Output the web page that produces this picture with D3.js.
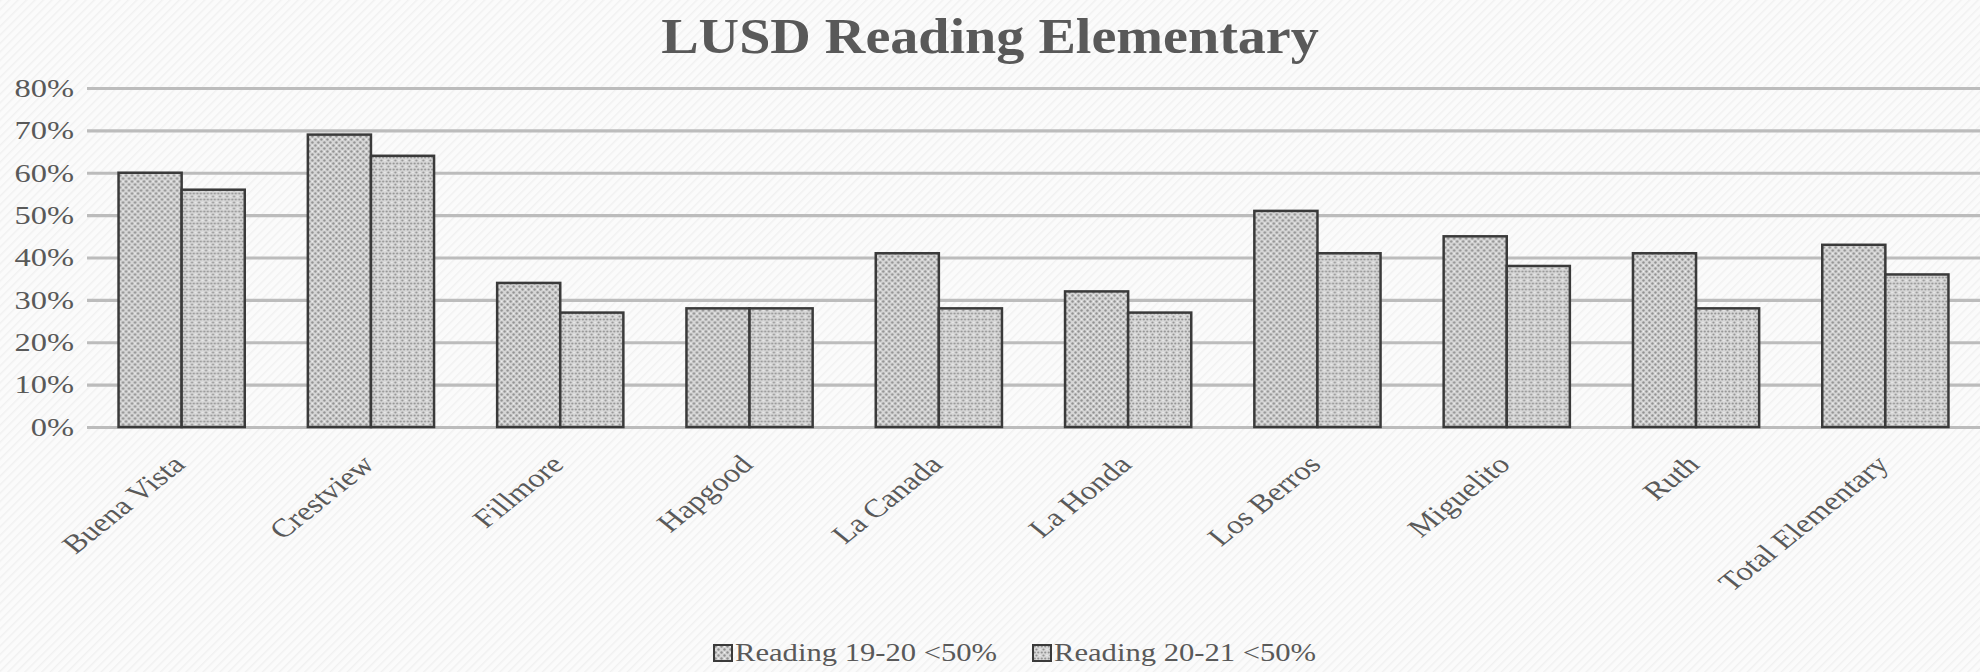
<!DOCTYPE html>
<html>
<head>
<meta charset="utf-8">
<script src="https://cdn.jsdelivr.net/npm/d3@7"></script>
<style>
  html, body { margin: 0; padding: 0; background: #fafafa; }
  svg { display: block; }
  text { font-family: "Liberation Serif", "Times New Roman", serif; fill: #595959; }
</style>
</head>
<body>
<svg id="chart" width="1980" height="672"></svg>
<script>
const title = "LUSD Reading Elementary";
const categories = ["Buena Vista", "Crestview", "Fillmore", "Hapgood", "La Canada", "La Honda", "Los Berros", "Miguelito", "Ruth", "Total Elementary"];
const seriesNames = ["Reading 19-20 <50%", "Reading 20-21 <50%"];
const reading1920 = [60, 69, 34, 28, 41, 32, 51, 45, 41, 43];
const reading2021 = [56, 64, 27, 28, 28, 27, 41, 38, 28, 36];
const yTicks = [0, 10, 20, 30, 40, 50, 60, 70, 80];

const W = 1980, H = 672;
const margin = { left: 87, right: 0, top: 88, bottom: 245 };
const SX = 1.25;   // horizontal text stretch seen in the reference

const svg = d3.select("#chart");
const defs = svg.append("defs");

// background paper texture
const bgp = defs.append("pattern").attr("id", "bg").attr("patternUnits", "userSpaceOnUse")
  .attr("width", 6).attr("height", 6).attr("patternTransform", "rotate(45)");
bgp.append("rect").attr("width", 6).attr("height", 6).attr("fill", "#fbfbfb");
bgp.append("rect").attr("width", 1.5).attr("height", 6).attr("fill", "#f1f1f1");
svg.append("rect").attr("width", W).attr("height", H).attr("fill", "url(#bg)");

// bar patterns
const p1 = defs.append("pattern").attr("id", "pat0").attr("patternUnits", "userSpaceOnUse")
  .attr("width", 6).attr("height", 6);
p1.append("rect").attr("width", 6).attr("height", 6).attr("fill", "#d6d6d6");
p1.append("circle").attr("cx", 1.5).attr("cy", 1.5).attr("r", 1.2).attr("fill", "#919191");
p1.append("circle").attr("cx", 4.5).attr("cy", 4.5).attr("r", 1.2).attr("fill", "#919191");
p1.append("circle").attr("cx", 4.5).attr("cy", 1.5).attr("r", 0.7).attr("fill", "#f0f0f0");

const p2 = defs.append("pattern").attr("id", "pat1").attr("patternUnits", "userSpaceOnUse")
  .attr("width", 7).attr("height", 6);
p2.append("rect").attr("width", 7).attr("height", 6).attr("fill", "#d8d8d8");
p2.append("circle").attr("cx", 1.75).attr("cy", 1.5).attr("r", 1.1).attr("fill", "#959595");
p2.append("circle").attr("cx", 5.25).attr("cy", 1.5).attr("r", 1.1).attr("fill", "#959595");
p2.append("circle").attr("cx", 3.5).attr("cy", 4.5).attr("r", 1.1).attr("fill", "#959595");
p2.append("circle").attr("cx", 0).attr("cy", 4.5).attr("r", 0.7).attr("fill", "#efefef");
p2.append("circle").attr("cx", 7).attr("cy", 4.5).attr("r", 0.7).attr("fill", "#efefef");

const x0 = d3.scaleBand().domain(categories).range([margin.left, W - margin.right])
  .paddingInner(1/3).paddingOuter(1/6);
const x1 = d3.scaleBand().domain([0, 1]).range([0, x0.bandwidth()]);
const y = d3.scaleLinear().domain([0, 80]).range([H - margin.bottom, margin.top]);

// gridlines
const yAxis = d3.axisLeft(y).tickValues(yTicks).tickSize(-(W - margin.right - margin.left))
  .tickFormat(d => d + "%").tickPadding(0);
const gy = svg.append("g").attr("transform", `translate(${margin.left},0)`).call(yAxis);
gy.select(".domain").remove();
gy.selectAll(".tick line").attr("stroke", "#bcbcbc").attr("stroke-width", 3.2);
gy.selectAll(".tick text").attr("font-size", 26).attr("fill", "#595959")
  .attr("text-anchor", "end")
  .attr("x", 0)
  .attr("transform", `translate(-13,0) scale(${SX},1)`);

// bars
const data = categories.map((c, i) => ({ c, v: [reading1920[i], reading2021[i]] }));
const groups = svg.append("g").selectAll("g").data(data).join("g")
  .attr("transform", d => `translate(${x0(d.c)},0)`);
groups.selectAll("rect").data(d => d.v.map((v, k) => ({ v, k }))).join("rect")
  .attr("x", d => x1(d.k))
  .attr("y", d => y(d.v))
  .attr("width", x1.bandwidth())
  .attr("height", d => y(0) - y(d.v))
  .attr("fill", d => `url(#pat${d.k})`)
  .attr("stroke", "#3a3a3a").attr("stroke-width", 2.5);

// x labels
const xAxis = svg.append("g");
xAxis.selectAll("text").data(categories).join("text")
  .attr("text-anchor", "end")
  .attr("font-size", 26)
  .attr("fill", "#595959")
  .attr("transform", d => `translate(${x0(d) + x0.bandwidth() / 2 + 5},466) scale(${SX},1) rotate(-45)`)
  .text(d => d);

// title
svg.append("text").attr("x", 0).attr("y", 0)
  .attr("transform", `translate(${W / 2},53) scale(1.1,1)`)
  .attr("text-anchor", "middle").attr("font-weight", "bold").attr("font-size", 51)
  .attr("fill", "#595959").text(title);

// legend
const legX = [714, 1033];
const leg = svg.append("g").selectAll("g").data(seriesNames).join("g")
  .attr("transform", (d, i) => `translate(${legX[i]},645)`);
leg.append("rect").attr("width", 18).attr("height", 16)
  .attr("fill", (d, i) => `url(#pat${i})`).attr("stroke", "#3a3a3a").attr("stroke-width", 2);
leg.append("text").attr("transform", `translate(21,16) scale(${SX},1)`)
  .attr("font-size", 24.5).attr("fill", "#555555").text(d => d);
</script>
</body>
</html>
